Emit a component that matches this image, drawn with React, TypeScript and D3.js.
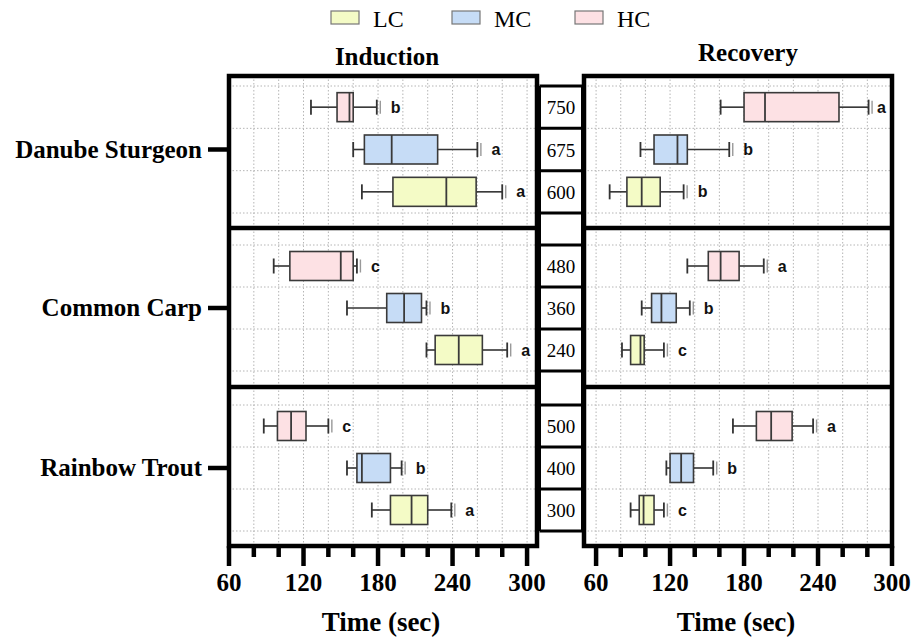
import React from "react";
import * as d3 from "d3";

// ---------- data ----------
const species = ["Danube Sturgeon", "Common Carp", "Rainbow Trout"];
const groups = ["HC", "MC", "LC"]; // top-to-bottom order inside each species row
const legendGroups = ["LC", "MC", "HC"];
const groupColors: Record<string, string> = { LC: "#f4fbc6", MC: "#c6dcf6", HC: "#fde1e4" };

const concSturgeon = [750, 675, 600];
const concCarp = [480, 360, 240];
const concTrout = [500, 400, 300];

// [min, q1, median, q3, max] (sec); order HC, MC, LC
const inductionSturgeon = [[126, 147, 157, 160, 179], [160, 169, 191, 228, 260], [167, 192, 235, 259, 280]];
const inductionCarp = [[96, 109, 150, 160, 163], [155, 187, 201, 215, 219], [219, 226, 245, 264, 284]];
const inductionTrout = [[88, 99, 110, 122, 140], [155, 163, 167, 190, 199], [175, 190, 207, 220, 239]];

const recoverySturgeon = [[161, 180, 197, 257, 281], [96, 107, 126, 134, 168], [71, 85, 97, 112, 131]];
const recoveryCarp = [[134, 151, 161, 176, 196], [97, 105, 113, 125, 136], [81, 88, 96, 99, 115]];
const recoveryTrout = [[171, 190, 202, 219, 236], [117, 120, 129, 139, 155], [88, 95, 98.5, 107, 115]];

const inductionLetters = [["b", "a", "a"], ["c", "b", "a"], ["c", "b", "a"]];
const recoveryLetters = [["a", "b", "b"], ["a", "b", "c"], ["a", "b", "c"]];

const majorTicks = [60, 120, 180, 240, 300];
const gridTicks = [60, 80, 100, 120, 140, 160, 180, 200, 220, 240, 260, 280, 300];

// ---------- layout ----------
const W = 912;
const H = 644;
const rowTop = [76, 228, 387];
const rowBottom = [228, 387, 546];
const gridTop = [86, 245, 405];
const gridBottom = [213, 371, 531];
const serif = "'Liberation Serif', 'Times New Roman', serif";
const sans = "'Liberation Sans', Arial, sans-serif";

const xInd = d3.scaleLinear().domain([60, 308]).range([229, 537]);
const xRec = d3.scaleLinear().domain([50.2, 300]).range([584, 892]);

const bands = rowTop.map((_, i) =>
  d3.scaleBand<string>().domain(groups).range([gridTop[i], gridBottom[i]]).paddingInner(0).paddingOuter(0)
);

function Panel({ x, stats, letters, title, titleY, titleX }: any) {
  const [x0, x1] = x.range();
  const boxH = 29;
  const capH = 15;
  return (
    <g>
      {/* gridlines */}
      {rowTop.map((rt, r) => (
        <g key={"g" + r}>
          {gridTicks.map((t) => {
            const gx = x(t);
            if (gx <= x0 + 2 || gx >= x1 - 2) return null;
            return (
              <line key={t} x1={gx} x2={gx} y1={rt} y2={rowBottom[r]} stroke="#b5b5b5" strokeWidth={1} strokeDasharray="1.5,2" />
            );
          })}
          {groups.concat(["end"]).map((g, k) => {
            const b = bands[r];
            const gy = k < 3 ? (b(g) as number) : gridBottom[r];
            return (
              <line key={"h" + k} x1={x0} x2={x1} y1={gy} y2={gy} stroke="#b5b5b5" strokeWidth={1} strokeDasharray="1.5,2" />
            );
          })}
        </g>
      ))}
      {/* boxes */}
      {stats.map((rowStats: number[][], r: number) =>
        rowStats.map((s: number[], k: number) => {
          const g = groups[k];
          const b = bands[r];
          const cy = (b(g) as number) + b.bandwidth() / 2;
          const [mn, q1, md, q3, mx] = s.map((v) => x(v));
          const lx = Math.min(mx + 14, x1 - 15);
          return (
            <g key={r + "-" + k}>
              <line x1={mn} x2={q1} y1={cy} y2={cy} stroke="#333" strokeWidth={1.6} />
              <line x1={q3} x2={mx} y1={cy} y2={cy} stroke="#333" strokeWidth={1.6} />
              <line x1={mn} x2={mn} y1={cy - capH / 2} y2={cy + capH / 2} stroke="#333" strokeWidth={1.8} />
              <line x1={mx} x2={mx} y1={cy - capH / 2} y2={cy + capH / 2} stroke="#333" strokeWidth={1.8} />
              <line x1={mx + 3.5} x2={mx + 3.5} y1={cy - capH / 2 + 1} y2={cy + capH / 2 - 1} stroke="#999" strokeWidth={1.4} />
              <rect x={q1} y={cy - boxH / 2} width={q3 - q1} height={boxH} fill={groupColors[g]} stroke="#3a3a3a" strokeWidth={1.6} />
              <line x1={md} x2={md} y1={cy - boxH / 2} y2={cy + boxH / 2} stroke="#3a3a3a" strokeWidth={1.8} />
              <text x={lx} y={cy + 5.5} fontFamily={sans} fontWeight="bold" fontSize={16} fill="#111">
                {letters[r][k]}
              </text>
            </g>
          );
        })
      )}
      {/* frame */}
      <rect x={x0} y={rowTop[0]} width={x1 - x0} height={rowBottom[2] - rowTop[0]} fill="none" stroke="#000" strokeWidth={4.5} />
      {[rowBottom[0], rowBottom[1]].map((y) => (
        <line key={y} x1={x0} x2={x1} y1={y} y2={y} stroke="#000" strokeWidth={4.5} />
      ))}
      {/* x axis ticks */}
      {gridTicks.map((t) => {
        const major = majorTicks.includes(t);
        return (
          <line key={"t" + t} x1={x(t)} x2={x(t)} y1={rowBottom[2]} y2={rowBottom[2] + (major ? 20 : 11)} stroke="#000" strokeWidth={4.5} />
        );
      })}
      {majorTicks.map((t) => (
        <text key={"l" + t} x={x(t)} y={591} textAnchor="middle" fontFamily={serif} fontWeight="bold" fontSize={25} fill="#000">
          {t}
        </text>
      ))}
      <text x={(x0 + x1) / 2 - 2} y={631} textAnchor="middle" fontFamily={serif} fontWeight="bold" fontSize={27} fill="#000">
        Time (sec)
      </text>
      <text x={titleX} y={titleY} textAnchor="middle" fontFamily={serif} fontWeight="bold" fontSize={25} fill="#000">
        {title}
      </text>
    </g>
  );
}

export default function App() {
  const concRows = [concSturgeon, concCarp, concTrout];
  const legendX = [331, 452, 575];
  const midX0 = 539.5;
  const midX1 = 582.5;
  const cellLines: number[] = [];
  rowTop.forEach((_, r) => {
    groups.forEach((g) => cellLines.push(bands[r](g) as number));
    cellLines.push(gridBottom[r]);
  });
  return (
    <svg width={W} height={H} style={{ position: "absolute", left: 0, top: 0, background: "#fff" }}>
      <rect x={0} y={0} width={W} height={H} fill="#fff" />
      {/* legend */}
      {legendGroups.map((g, i) => (
        <g key={g}>
          <rect x={legendX[i]} y={11} width={28} height={13} fill={groupColors[g]} stroke="#777" strokeWidth={1.2} />
          <text x={legendX[i] + 42} y={27} fontFamily={serif} fontSize={24} fill="#000">
            {g}
          </text>
        </g>
      ))}
      {/* species labels */}
      {species.map((s, r) => {
        const cy = (bands[r]("MC") as number) + bands[r].bandwidth() / 2;
        return (
          <g key={s}>
            <text x={202} y={cy + 8} textAnchor="end" fontFamily={serif} fontWeight="bold" fontSize={25} fill="#000">
              {s}
            </text>
            <line x1={208} x2={229} y1={cy} y2={cy} stroke="#000" strokeWidth={4.5} />
          </g>
        );
      })}
      {/* middle concentration column */}
      <line x1={midX0} x2={midX0} y1={gridTop[0]} y2={gridBottom[2]} stroke="#000" strokeWidth={3} />
      <line x1={midX1} x2={midX1} y1={gridTop[0]} y2={gridBottom[2]} stroke="#000" strokeWidth={3} />
      {cellLines.map((y, i) => (
        <line key={"c" + i} x1={midX0} x2={midX1} y1={y} y2={y} stroke="#000" strokeWidth={3} />
      ))}
      {concRows.map((row, r) =>
        row.map((c, k) => {
          const cy = (bands[r](groups[k]) as number) + bands[r].bandwidth() / 2;
          return (
            <text key={r + "-" + k} x={(midX0 + midX1) / 2} y={cy + 7} textAnchor="middle" fontFamily={serif} fontSize={19} fill="#000">
              {c}
            </text>
          );
        })
      )}
      <Panel x={xInd} stats={[inductionSturgeon, inductionCarp, inductionTrout]} letters={inductionLetters} title="Induction" titleX={387} titleY={65} />
      <Panel x={xRec} stats={[recoverySturgeon, recoveryCarp, recoveryTrout]} letters={recoveryLetters} title="Recovery" titleX={748} titleY={61} />
    </svg>
  );
}
